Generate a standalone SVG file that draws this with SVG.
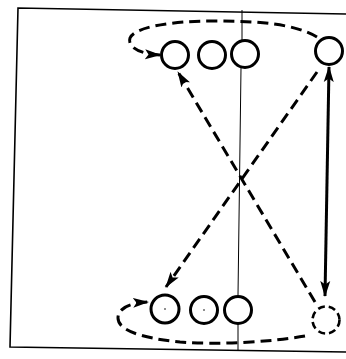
<svg xmlns="http://www.w3.org/2000/svg" width="346" height="359" viewBox="0 0 346 359">
<style>
.frame{fill:none;stroke:#000;stroke-width:1.6}
.thin{fill:none;stroke:#000;stroke-width:1}
.circ{fill:#fff;stroke:#000;stroke-width:3}
.dcirc{fill:#fff;stroke:#000;stroke-width:2.6;stroke-dasharray:7 4}
.dash{fill:none;stroke:#000;stroke-width:3;stroke-dasharray:11 6}
.solid{fill:none;stroke:#000;stroke-width:3}
</style>
<defs>
<marker id="ah" markerUnits="userSpaceOnUse" markerWidth="16" markerHeight="11" refX="15" refY="5.5" orient="auto-start-reverse" viewBox="0 0 16 11">
<path d="M0,0.5 L16,5.5 L0,10.5 L3.5,5.5 Z" fill="#000"/>
</marker>
</defs>
<g id="frame">
<path class="frame" d="M346,14 L18,8 L10,347 L346,352"/>
<path class="thin" d="M242,10 L242,40 M241,68 L238,295 M238,324 L238,350"/>
</g>
<g id="connectors">
<path class="dash" d="M317,37 C295,24 260,21 215,21 C170,21 135,27 130,38 C127,47 140,54 160,55" marker-end="url(#ah)"/>
<path class="dash" d="M305,336 C270,342 220,345 180,342 C140,338 118,330 118,318 C118,308 130,303 148,302" marker-end="url(#ah)"/>
<path class="dash" d="M315,302 L178,72" marker-end="url(#ah)"/>
<path class="dash" d="M317,72 L166,287" marker-end="url(#ah)"/>
<path class="solid" d="M329,67 L325,296" marker-start="url(#ah)" marker-end="url(#ah)"/>
</g>
<g id="top1"><circle class="circ" cx="175" cy="55" r="13.5"/></g>
<g id="top2"><circle class="circ" cx="212" cy="55" r="13.5"/></g>
<g id="top3"><circle class="circ" cx="245" cy="54" r="13.5"/></g>
<g id="topRight"><circle class="circ" cx="329" cy="51" r="13.5"/></g>
<g id="bot1"><circle class="circ" cx="165" cy="309" r="14"/><circle cx="165" cy="309" r="0.8" fill="#000"/></g>
<g id="bot2"><circle class="circ" cx="204" cy="310" r="13.5"/><circle cx="204" cy="310" r="0.8" fill="#000"/></g>
<g id="bot3"><circle class="circ" cx="238" cy="310" r="13.5"/></g>
<g id="botRight"><circle class="dcirc" cx="326" cy="320" r="13.5"/></g>
</svg>
